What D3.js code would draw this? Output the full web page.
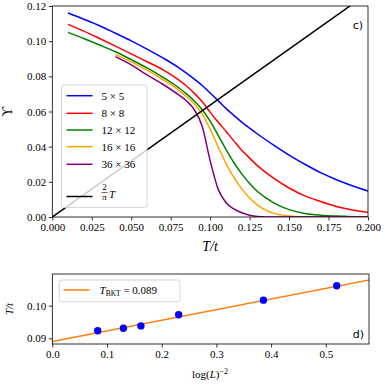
<!DOCTYPE html>
<html>
<head>
<meta charset="utf-8">
<script src="https://d3js.org/d3.v7.min.js"></script>
<style>
  body { margin: 0; background: #fff; }
  svg { display: block; }
  .tick line { stroke: #000; stroke-width: 0.8; }
  .domain { display: none; }
</style>
</head>
<body>
<div id="chart"></div>
<script>
// ---- data ----
// top panel: helicity modulus vs T/t for each lattice size
var tGrid = [0.01, 0.02, 0.03, 0.04, 0.05, 0.06, 0.07, 0.08, 0.085, 0.09, 0.095, 0.10, 0.105, 0.11, 0.115, 0.12, 0.125, 0.13, 0.14, 0.15, 0.16, 0.17, 0.18, 0.19, 0.20];
var ups5 = [0.116, 0.1125, 0.1088, 0.1045, 0.1002, 0.0955, 0.0905, 0.0850, 0.0818, 0.0784, 0.0748, 0.0705, 0.0662, 0.0618, 0.0578, 0.0540, 0.0505, 0.0472, 0.0410, 0.0352, 0.0300, 0.0252, 0.0212, 0.0178, 0.0148];
var ups8 = [0.1096, 0.1057, 0.1015, 0.0972, 0.0928, 0.0883, 0.0838, 0.0780, 0.0745, 0.0703, 0.0655, 0.0595, 0.0540, 0.0488, 0.0433, 0.0380, 0.0335, 0.0292, 0.0222, 0.0165, 0.0120, 0.0088, 0.0060, 0.0040, 0.0027];
var ups12 = [0.105, 0.1015, 0.0978, 0.0940, 0.0895, 0.0848, 0.0795, 0.0735, 0.0700, 0.0660, 0.0610, 0.0545, 0.0465, 0.0385, 0.0310, 0.0245, 0.0190, 0.0145, 0.0082, 0.0042, 0.0020, 0.0010, 0.0005, 0.0002, 0.0001];
var ups16 = [null, null, null, 0.0925, 0.0882, 0.0835, 0.0782, 0.0722, 0.0685, 0.0643, 0.0585, 0.0500, 0.0400, 0.0305, 0.0225, 0.0160, 0.0108, 0.0068, 0.0022, 0.0006, 0.0001, 0, 0, 0, 0];
var ups36 = [null, null, null, 0.0912, 0.0865, 0.0808, 0.0755, 0.0695, 0.0660, 0.0610, 0.0515, 0.0320, 0.0160, 0.0082, 0.0046, 0.0024, 0.0010, 0.0003, 0, 0, 0, 0, 0, 0, 0];
var sizeLabels = ["5 × 5", "8 × 8", "12 × 12", "16 × 16", "36 × 36"];
var sizeColors = ["blue", "red", "green", "orange", "purple"];

// universal jump line 2T/pi
var jumpT = [0, 0.2];
var jumpY = [0, 0.1273];

var topXTicks = [0, 0.025, 0.05, 0.075, 0.1, 0.125, 0.15, 0.175, 0.2];
var topYTicks = [0, 0.02, 0.04, 0.06, 0.08, 0.1, 0.12];

// bottom panel: T_c(L) vs log(L)^-2
var invLog2 = [0.083, 0.130, 0.162, 0.231, 0.386, 0.520];
var tcL = [0.0923, 0.0931, 0.0938, 0.0972, 0.1017, 0.1061];
var fitX = [0, 0.58];
var fitY = [0.089, 0.1079];
var botXTicks = [0, 0.1, 0.2, 0.3, 0.4, 0.5];
var botYTicks = [0.09, 0.10];

// ---- svg ----
var svgWidth = 385;
var svgHeight = 385;
var svg = d3.select("#chart").append("svg")
    .attr("width", svgWidth)
    .attr("height", svgHeight);

var serif = "'Liberation Serif', 'DejaVu Serif', serif";

// axis text in serif like the LaTeX figure
function styleAxis(g) {
    g.attr("font-family", serif).attr("font-size", 11);
    g.selectAll(".tick text").attr("fill", "#000");
}

// ================= top panel =================
var topBox = { left: 52.3, top: 6, width: 315.7, height: 211 };
var g1 = svg.append("g").attr("transform", `translate(${topBox.left}, ${topBox.top})`);

var x1 = d3.scaleLinear().domain([0, 0.2]).range([0, topBox.width]);
var y1 = d3.scaleLinear().domain([0, 0.12]).range([topBox.height, 0]);

svg.append("clipPath").attr("id", "clip1")
  .append("rect").attr("width", topBox.width).attr("height", topBox.height);

var line1 = d3.line()
    .defined(d => d[1] !== null)
    .x(d => x1(d[0]))
    .y(d => y1(d[1]))
    .curve(d3.curveMonotoneX);

var allSeries = [ups5, ups8, ups12, ups16, ups36];
var plot1 = g1.append("g").attr("clip-path", "url(#clip1)");
allSeries.forEach(function(s, i) {
    plot1.append("path")
        .datum(tGrid.map((t, j) => [t, s[j]]))
        .attr("d", line1)
        .attr("fill", "none")
        .attr("stroke", sizeColors[i])
        .attr("stroke-width", 1.5);
});
plot1.append("path")
    .datum(jumpT.map((t, j) => [t, jumpY[j]]))
    .attr("d", d3.line().x(d => x1(d[0])).y(d => y1(d[1])))
    .attr("fill", "none")
    .attr("stroke", "black")
    .attr("stroke-width", 1.5);

// axes
g1.append("g")
    .attr("transform", `translate(0, ${topBox.height})`)
    .call(d3.axisBottom(x1).tickValues(topXTicks).tickFormat(d3.format(".3f")).tickSizeInner(3.5).tickPadding(2.5))
    .call(styleAxis);
g1.append("g")
    .call(d3.axisLeft(y1).tickValues(topYTicks).tickFormat(d3.format(".2f")).tickSizeInner(3.5).tickPadding(2.5))
    .call(styleAxis);
g1.append("rect")
    .attr("width", topBox.width).attr("height", topBox.height)
    .attr("fill", "none").attr("stroke", "black").attr("stroke-width", 0.8);

// labels
svg.append("text")
    .attr("x", 210).attr("y", 251)
    .attr("text-anchor", "middle")
    .attr("font-family", serif).attr("font-size", 14).attr("font-style", "italic")
    .text("T/t");
svg.append("text")
    .attr("transform", "translate(12, 112) rotate(-90)")
    .attr("text-anchor", "middle")
    .attr("font-family", serif).attr("font-size", 14)
    .text("ϒ");
svg.append("text")
    .attr("x", 363).attr("y", 29)
    .attr("text-anchor", "end")
    .attr("font-family", "'DejaVu Sans', sans-serif").attr("font-size", 11)
    .text("c)");

// legend (top)
var leg1 = svg.append("g");
leg1.append("rect")
    .attr("x", 61.5).attr("y", 85).attr("width", 85.5).attr("height", 122.5)
    .attr("rx", 2.5)
    .attr("fill", "white").attr("fill-opacity", 0.8)
    .attr("stroke", "#cccccc").attr("stroke-width", 0.8);
var legY = [95.7, 113.3, 130, 146.7, 164.3];
sizeLabels.forEach(function(lab, i) {
    leg1.append("line")
        .attr("x1", 66.5).attr("x2", 92.5)
        .attr("y1", legY[i]).attr("y2", legY[i])
        .attr("stroke", sizeColors[i]).attr("stroke-width", 1.5);
    leg1.append("text")
        .attr("x", 101.5).attr("y", legY[i] + 3.8)
        .attr("font-family", serif).attr("font-size", 11)
        .text(lab);
});
leg1.append("line")
    .attr("x1", 66.5).attr("x2", 92.5)
    .attr("y1", 196.5).attr("y2", 196.5)
    .attr("stroke", "black").attr("stroke-width", 1.5);
leg1.append("text").attr("x", 104.5).attr("y", 190)
    .attr("text-anchor", "middle")
    .attr("font-family", serif).attr("font-size", 9).text("2");
leg1.append("line")
    .attr("x1", 101.5).attr("x2", 107.5).attr("y1", 192.5).attr("y2", 192.5)
    .attr("stroke", "black").attr("stroke-width", 0.6);
leg1.append("text").attr("x", 104.5).attr("y", 200)
    .attr("text-anchor", "middle")
    .attr("font-family", serif).attr("font-size", 9).attr("font-style", "italic").text("π");
leg1.append("text").attr("x", 109).attr("y", 197.5)
    .attr("font-family", serif).attr("font-size", 11).attr("font-style", "italic").text("T");

// ================= bottom panel =================
var bot = { left: 52.3, top: 274, width: 316.7, height: 70 };
var g2 = svg.append("g").attr("transform", `translate(${bot.left}, ${bot.top})`);

var x2 = d3.scaleLinear().domain([0, 0.579]).range([0, bot.width]);
var y2 = d3.scaleLinear().domain([0.08825, 0.10972]).range([bot.height, 0]);

svg.append("clipPath").attr("id", "clip2")
  .append("rect").attr("width", bot.width).attr("height", bot.height);
var plot2 = g2.append("g").attr("clip-path", "url(#clip2)");

plot2.append("path")
    .datum(fitX.map((v, j) => [v, fitY[j]]))
    .attr("d", d3.line().x(d => x2(d[0])).y(d => y2(d[1])))
    .attr("fill", "none")
    .attr("stroke", "#ff7f0e")
    .attr("stroke-width", 1.5);

plot2.selectAll("circle")
    .data(invLog2)
    .enter()
    .append("circle")
    .attr("cx", (d, i) => x2(d))
    .attr("cy", (d, i) => y2(tcL[i]))
    .attr("r", 3.7)
    .attr("fill", "blue");

g2.append("g")
    .attr("transform", `translate(0, ${bot.height})`)
    .call(d3.axisBottom(x2).tickValues(botXTicks).tickFormat(d3.format(".1f")).tickSizeInner(3.5).tickPadding(2.5))
    .call(styleAxis);
g2.append("g")
    .call(d3.axisLeft(y2).tickValues(botYTicks).tickFormat(d3.format(".2f")).tickSizeInner(3.5).tickPadding(2.5))
    .call(styleAxis);
g2.append("rect")
    .attr("width", bot.width).attr("height", bot.height)
    .attr("fill", "none").attr("stroke", "black").attr("stroke-width", 0.8);

// labels
var xl = svg.append("text")
    .attr("x", 210).attr("y", 378)
    .attr("text-anchor", "middle")
    .attr("font-family", serif).attr("font-size", 11);
xl.append("tspan").text("log(");
xl.append("tspan").attr("font-style", "italic").text("L");
xl.append("tspan").text(")");
xl.append("tspan").attr("font-size", 8).attr("dy", -4).text("−2");

svg.append("text")
    .attr("transform", "translate(13, 309) rotate(-90)")
    .attr("text-anchor", "middle")
    .attr("font-family", serif).attr("font-size", 11).attr("font-style", "italic")
    .text("T/t");
svg.append("text")
    .attr("x", 364).attr("y", 338)
    .attr("text-anchor", "end")
    .attr("font-family", "'DejaVu Sans', sans-serif").attr("font-size", 11)
    .text("d)");

// legend (bottom)
var leg2 = svg.append("g");
leg2.append("rect")
    .attr("x", 59.3).attr("y", 280).attr("width", 120.7).attr("height", 21.7)
    .attr("rx", 2.5)
    .attr("fill", "white").attr("fill-opacity", 0.8)
    .attr("stroke", "#cccccc").attr("stroke-width", 0.8);
leg2.append("line")
    .attr("x1", 63.5).attr("x2", 89.5).attr("y1", 290).attr("y2", 290)
    .attr("stroke", "#ff7f0e").attr("stroke-width", 1.5);
var lt = leg2.append("text")
    .attr("x", 99.5).attr("y", 294)
    .attr("font-family", serif).attr("font-size", 11);
lt.append("tspan").attr("font-style", "italic").text("T");
lt.append("tspan").attr("font-size", 7.5).attr("dy", 2).text("BKT");
lt.append("tspan").attr("dy", -2).text(" = 0.089");
</script>
</body>
</html>
